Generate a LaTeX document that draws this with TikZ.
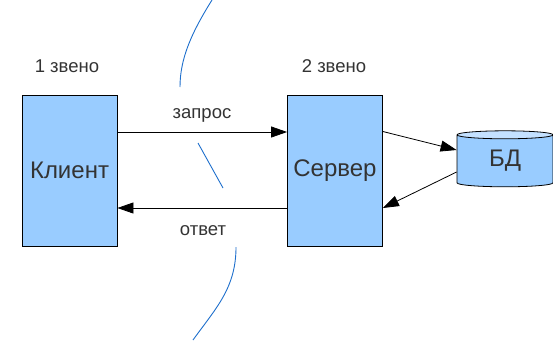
\documentclass[tikz,border=0pt]{standalone}
\usepackage{fontspec}
\setmainfont{Liberation Sans}
\usetikzlibrary{arrows.meta,shapes.geometric}
\definecolor{boxblue}{HTML}{99CCFF}
\definecolor{capblue}{HTML}{C4E1FF}
\definecolor{cutblue}{HTML}{1E6FCC}
\definecolor{txtgray}{HTML}{333333}
\tikzset{
  tier-box/.style={draw,fill=boxblue,rectangle,minimum width=95pt,minimum height=151pt,inner sep=0pt,line width=0.8pt,text=txtgray,font=\fontsize{24}{28}\selectfont},
  db-node/.style={draw,cylinder,shape border rotate=90,aspect=0.25,minimum width=96pt,minimum height=56pt,inner sep=0pt,line width=0.8pt,cylinder uses custom fill,cylinder body fill=boxblue,cylinder end fill=capblue,text=txtgray,font=\fontsize{24}{28}\selectfont},
  link/.style={-{Triangle[length=16pt,width=11pt]},line width=0.8pt,black},
  tier-label/.style={anchor=base,text=txtgray,font=\fontsize{18.5}{21}\selectfont},
  msg-label/.style={anchor=base,text=txtgray,font=\fontsize{18.5}{21}\selectfont},
  cut/.style={draw,cutblue,line width=0.9pt},
}
\begin{document}
\begin{tikzpicture}[x=1pt,y=-1pt]
  \useasboundingbox (0,0) rectangle (553,341);

  % tiers
  \node[tier-label] (tier1) at (67,72)  {1 звено};
  \node[tier-label] (tier2) at (334,72) {2 звено};

  \node[tier-box] (client) at (69.5,170.5) {Клиент};
  \node[tier-box] (server) at (335,170.5)  {Сервер};
  \node[db-node]  (db)     at (505,161)    {\raisebox{-4pt}{БД}};

  % requests and answers
  \draw[link] ([yshift=38.5pt]client.east) -- ([yshift=38.5pt]server.west);
  \draw[link] ([yshift=-37.5pt]server.west) -- ([yshift=-37.5pt]client.east);
  \node[msg-label] (req) at (202,118) {запрос};
  \node[msg-label] (ans) at (203,235) {ответ};

  \draw[link] ([yshift=39pt]server.east) -- ([yshift=11pt]db.west);
  \draw[link] ([yshift=-11pt]db.west) -- ([yshift=-37.5pt]server.east);

  % boundary between the tiers
  \draw[cut] (212,0) .. controls (192,32) and (180,58) .. (180,87);
  \draw[cut] (198,143) -- (223,188);
  \draw[cut] (236,247) .. controls (236,288) and (216,308) .. (193,340);

\end{tikzpicture}
\end{document}
